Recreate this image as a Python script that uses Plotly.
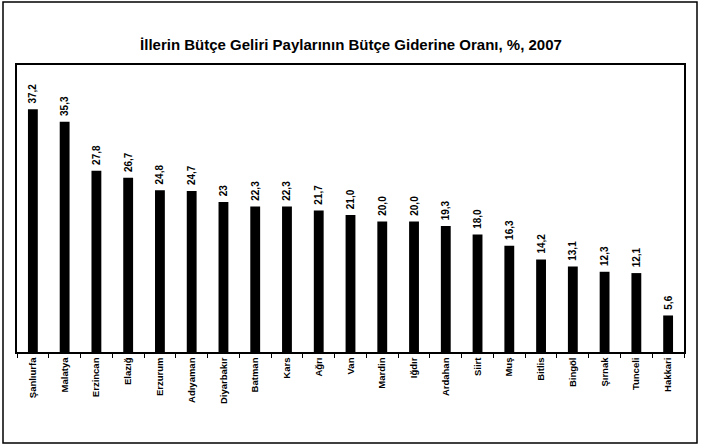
import plotly.graph_objects as go

provinces = ["Şanlıurfa", "Malatya", "Erzincan", "Elazığ", "Erzurum", "Adıyaman",
             "Diyarbakır", "Batman", "Kars", "Ağrı", "Van", "Mardin", "Iğdır",
             "Ardahan", "Siirt", "Muş", "Bitlis", "Bingöl", "Şırnak", "Tunceli", "Hakkari"]
values = [37.2, 35.3, 27.8, 26.7, 24.8, 24.7, 23.0, 22.3, 22.3, 21.7, 21.0,
          20.0, 20.0, 19.3, 18.0, 16.3, 14.2, 13.1, 12.3, 12.1, 5.6]
value_labels = ["37,2", "35,3", "27,8", "26,7", "24,8", "24,7", "23", "22,3", "22,3",
                "21,7", "21,0", "20,0", "20,0", "19,3", "18,0", "16,3", "14,2",
                "13,1", "12,3", "12,1", "5,6"]
title_text = "İllerin Bütçe Geliri Paylarının Bütçe Giderine Oranı, %, 2007"

W, H = 702, 446
L, R, T, B = 17, 684, 65, 352

def px(x):
    return (x - L) / (R - L)

def py(y):
    return (B - y) / (B - T)

fig = go.Figure(go.Bar(
    x=provinces, y=values,
    marker=dict(color="black", line=dict(width=0)),
    text=["\u00a0" + t for t in value_labels], textposition="outside", textangle=-90,
    constraintext="none",
    textfont=dict(family="Liberation Sans, Arial, sans-serif", size=10, color="black", weight="bold"),
    cliponaxis=False,
    hoverinfo="skip",
))

fig.update_layout(
    width=W, height=H,
    margin=dict(l=L, r=W - R, t=T, b=H - B),
    paper_bgcolor="white", plot_bgcolor="white",
    showlegend=False,
    bargap=0.69,
    title=dict(text="<b>" + title_text + "</b>", x=0.5, xanchor="center",
               y=1 - 45 / H, yanchor="middle",
               font=dict(family="Liberation Sans, Arial, sans-serif", size=15, color="black")),
    font=dict(family="Liberation Sans, Arial, sans-serif", color="black"),
)

fig.update_xaxes(
    showline=True, linecolor="black", linewidth=1.5, mirror=True,
    ticks="outside", tickson="boundaries", ticklen=4, tickcolor="black", tickwidth=1,
    tickangle=-90,
    tickfont=dict(family="Liberation Sans Narrow, Arial Narrow, Liberation Sans, sans-serif",
                  size=9.5, color="black", weight="bold"),
    showgrid=False, fixedrange=True,
)
fig.update_yaxes(
    range=[0, 44], showline=True, linecolor="black", linewidth=1.5, mirror=True,
    showticklabels=False, ticks="", showgrid=False, zeroline=False, fixedrange=True,
)

fig.add_shape(type="rect", xref="paper", yref="paper",
              x0=px(3), x1=px(697), y0=py(443), y1=py(2),
              line=dict(color="black", width=1.5), fillcolor="rgba(0,0,0,0)", layer="above")

fig.write_html("out.html", config={"displayModeBar": False},
               post_script="document.body.style.margin='0';")
